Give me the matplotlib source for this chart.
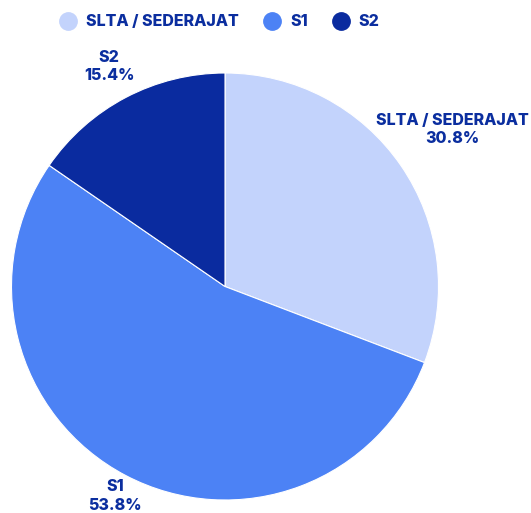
import matplotlib
matplotlib.use("Agg")
import matplotlib.pyplot as plt
from matplotlib.lines import Line2D
import numpy as np

categories = ["SLTA / SEDERAJAT", "S1", "S2"]
values = [30.8, 53.8, 15.4]
colors = ["#c3d3fc", "#4c82f5", "#0a2b9f"]
text_color = "#0b2e9f"
label_radius = [1.295, 1.11, 1.165]

plt.rcParams['font.family'] = ['Inter', 'DejaVu Sans']

fig = plt.figure(figsize=(5.31, 5.13), dpi=100)
ax = fig.add_axes([0, 0, 1, 1])
cx, cy, R = 225, 286.5, 213.5

wedges, _ = ax.pie(values, colors=colors, startangle=90, counterclock=False,
                   radius=1, wedgeprops=dict(edgecolor='white', linewidth=0.8))
ax.set_xlim(-cx / R, (531 - cx) / R)
ax.set_ylim(-(513 - cy) / R, cy / R)
ax.set_aspect('equal')
ax.axis('off')

for w, cat, v, lr in zip(wedges, categories, values, label_radius):
    mid = np.deg2rad((w.theta1 + w.theta2) / 2)
    x, y = lr * np.cos(mid), lr * np.sin(mid)
    ax.text(x, y, f"{cat}\n{v:.1f}%", ha='center', va='center', color=text_color,
            fontsize=11.5, fontweight='heavy', linespacing=1.3)

handles = [Line2D([], [], marker='o', linestyle='', markersize=12.5, color=c) for c in colors]
leg = fig.legend(handles, categories, loc='center', bbox_to_anchor=(220 / 531, 1 - 22 / 513),
                 ncol=3, frameon=False, handletextpad=0.6, columnspacing=1.6,
                 handlelength=1.0, prop=dict(size=11.5, weight='heavy'))
for t in leg.get_texts():
    t.set_color(text_color)

fig.savefig("out.png", dpi=100)
